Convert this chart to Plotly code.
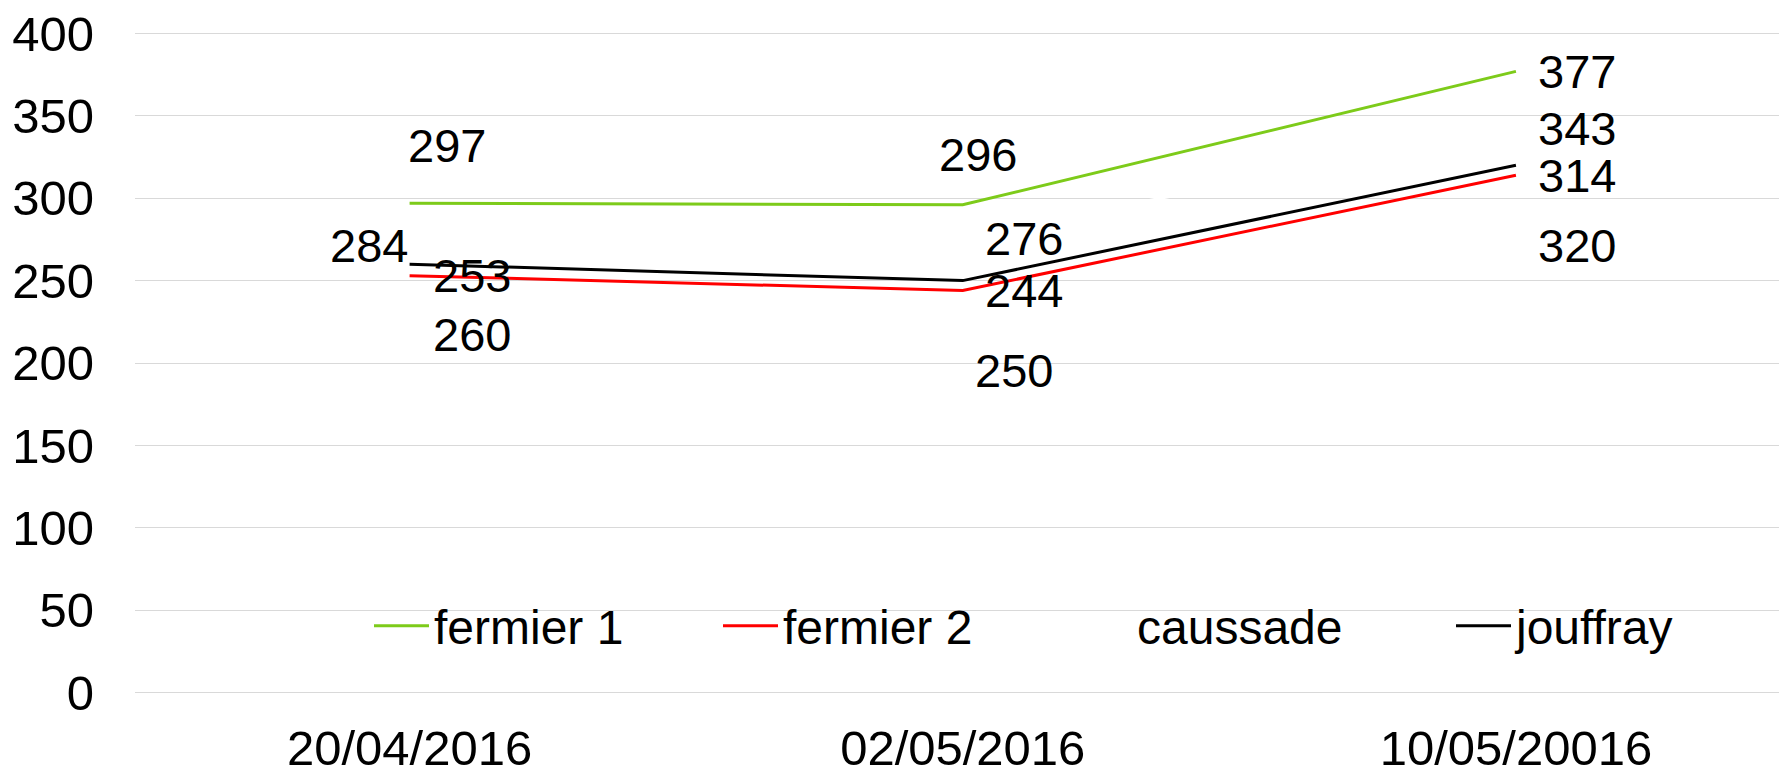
import plotly.graph_objects as go

categories = ["20/04/2016", "02/05/2016", "10/05/20016"]
series_names = ["fermier 1", "fermier 2", "caussade", "jouffray"]
fermier_1 = [297, 296, 377]
fermier_2 = [253, 244, 314]
caussade = [284, 276, 343]
jouffray = [260, 250, 320]
y_ticks = [0, 50, 100, 150, 200, 250, 300, 350, 400]

values = [fermier_1, fermier_2, caussade, jouffray]
colors = ["#7DCB1A", "#FF0000", "#FFFFFF", "#000000"]

# data label offsets (pixels) per series, per point: (xshift, yshift)
label_offsets = [
    [(37, 58), (15, 50), (61, 0)],
    [(62, 0), (61, 0), (61, 0)],
    [(-41, -21), (61, -1), (61, -1)],
    [(62, -70), (51, -90), (61, -80)],
]

FONT = "Liberation Sans, Arial, sans-serif"
FS = 47
FS_TICK = 49
FS_LEG = 48

W, H = 1779, 769
ml, mr, mt, mb = 135, 0, 31, 74
pw = W - ml - mr
ph = H - mt - mb

legend_text_px = [435, 784, 1138, 1517]
legend_center_py = 626
ITEMW = 55

fig = go.Figure()
legend_ids = ["legend", "legend2", "legend3", "legend4"]
for i, (name, vals) in enumerate(zip(series_names, values)):
    fig.add_trace(go.Scatter(
        x=categories, y=vals, mode="lines", name=name,
        line=dict(color=colors[i], width=3),
        legend=legend_ids[i], hoverinfo="skip",
    ))
    for j, v in enumerate(vals):
        dx, dy = label_offsets[i][j]
        fig.add_annotation(
            x=categories[j], y=v, text=str(v), showarrow=False,
            xshift=dx, yshift=dy, xanchor="center", yanchor="middle",
            font=dict(family=FONT, size=FS, color="#000000"),
        )

layout_legends = {}
for i, lid in enumerate(legend_ids):
    lx = (legend_text_px[i] - (ITEMW + 11) - ml) / pw
    ly = (H - mb - legend_center_py) / ph
    layout_legends[lid] = dict(
        x=lx, y=ly, xanchor="left", yanchor="middle",
        orientation="h", bgcolor="rgba(0,0,0,0)", borderwidth=0,
        itemwidth=ITEMW,
        font=dict(family=FONT, size=FS_LEG, color="#000000"),
    )

fig.update_layout(
    width=W, height=H,
    margin=dict(l=ml, r=mr, t=mt, b=mb, pad=0, autoexpand=False),
    paper_bgcolor="white", plot_bgcolor="white",
    font=dict(family=FONT, size=FS, color="#000000"),
    showlegend=True,
    **layout_legends,
)
fig.update_xaxes(
    type="category", range=[-0.4964, 2.4756], automargin=False,
    showgrid=False, zeroline=False, showline=False, ticks="",
    tickfont=dict(family=FONT, size=FS_TICK, color="#000000"),
    ticklabelstandoff=20,
)
fig.update_yaxes(
    range=[-1.5, 401.5], tickvals=y_ticks, automargin=False,
    showgrid=True, gridcolor="#D9D9D9", gridwidth=1.3,
    zeroline=False, showline=False, ticks="",
    tickfont=dict(family=FONT, size=FS_TICK, color="#000000"),
    ticklabelstandoff=40,
)

fig.write_html(
    "out.html",
    config={"displayModeBar": False},
    post_script="document.body.style.margin='0';document.body.style.overflow='hidden';",
)
